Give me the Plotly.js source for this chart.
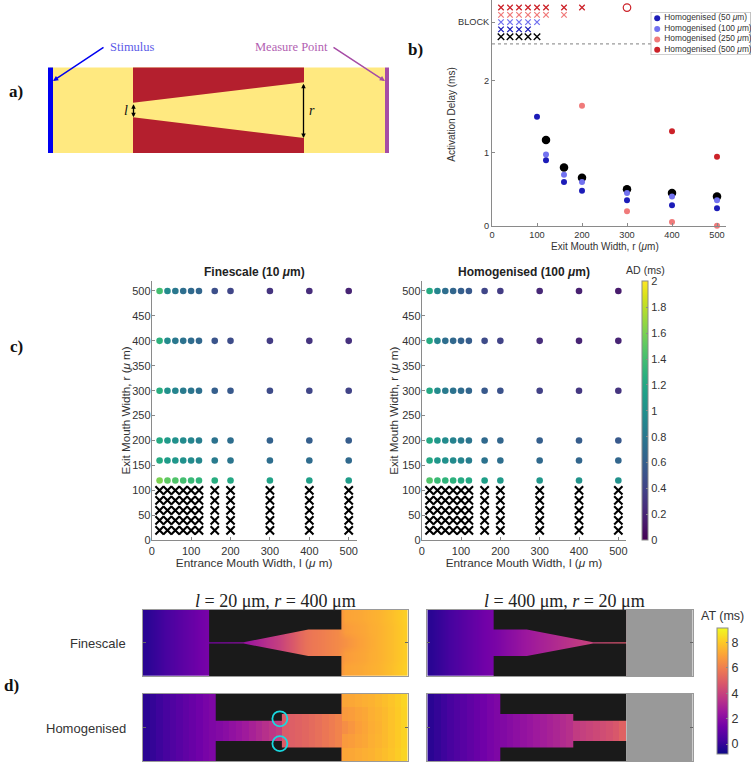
<!DOCTYPE html>
<html><head><meta charset="utf-8">
<script src="https://cdn.plot.ly/plotly-3.0.1.min.js"></script>
<style>html,body{margin:0;padding:0;background:#fff}#p{width:751px;height:762px}</style>
</head><body><div id="p"></div>
<script>
const W=751,H=762;
const SANS='"Liberation Sans",Arial,sans-serif', SERIF='"Liberation Serif","DejaVu Serif",serif';
const AXC='#8a8a8a', TXT='#333333';

/* ---------- panel b data ---------- */
const fineDelayX=[120,160,200,300,400,500];
const fineDelay=[1.18,0.80,0.66,0.50,0.45,0.40];
const hom50X=[100,120,160,200,300,400,500];
const hom50=[1.50,0.90,0.60,0.48,0.35,0.28,0.24];
const hom100X=[120,160,200,300,400,500];
const hom100=[0.98,0.70,0.60,0.45,0.40,0.35];
const hom250X=[200,300,400,500];
const hom250=[1.65,0.20,0.05,0.00];
const hom500X=[400,500];
const hom500=[1.30,0.95];
const blockFineX=[20,40,60,80,100];
const block50X=[20,40,60,80];
const block100X=[20,40,60,80,100];
const block250X=[20,40,60,80,100,120,160];
const block500X=[20,40,60,80,100,120,160,200];
const blockLevels={fine:2.6,h50:2.7,h100:2.8,h250:2.9,h500:3.0};
const legendLabels=['Homogenised (50 <i>μ</i>m)','Homogenised (100 <i>μ</i>m)','Homogenised (250 <i>μ</i>m)','Homogenised (500 <i>μ</i>m)'];
const C50='#1c1cb8',C100='#7272f0',C250='#f07a7a',C500='#cc2229';

/* ---------- panel c data ---------- */
const entrance=[20,40,60,80,100,120,160,200,300,400,500];
const exitRows=[500,400,300,200,160,120];
const blockedRows=[100,80,60,40,20];
const fineAD=[
 [1.40,0.95,0.80,0.72,0.68,0.65,0.48,0.42,0.30,0.25,0.20],
 [1.28,0.95,0.80,0.75,0.70,0.66,0.52,0.46,0.35,0.30,0.28],
 [1.25,1.00,0.90,0.82,0.78,0.73,0.60,0.55,0.45,0.42,0.40],
 [1.22,1.08,1.00,0.95,0.90,0.85,0.75,0.72,0.62,0.60,0.58],
 [1.22,1.10,1.05,1.00,0.95,0.92,0.82,0.78,0.72,0.70,0.68],
 [1.60,1.50,1.45,1.40,1.35,1.30,1.25,1.20,1.15,1.12,1.10]];
const homAD=[
 [1.22,0.90,0.72,0.65,0.60,0.55,0.42,0.35,0.22,0.18,0.15],
 [1.22,0.90,0.72,0.67,0.62,0.58,0.45,0.40,0.25,0.20,0.20],
 [1.20,0.95,0.82,0.75,0.70,0.65,0.55,0.50,0.38,0.32,0.30],
 [1.20,1.05,0.95,0.88,0.82,0.78,0.68,0.65,0.60,0.58,0.55],
 [1.20,1.05,1.00,0.95,0.90,0.85,0.75,0.72,0.68,0.65,0.65],
 [1.45,1.35,1.30,1.28,1.22,1.20,1.12,1.08,1.05,1.02,1.00]];

/* ---------- panel d data: AT (ms) per 100 um column ---------- */
const colX=[50,150,250,350,450,550,650,750,850,950,1050,1150,1250,1350,1450,1550,1650,1750,1850,1950,2050,2150,2250,2350,2450,2550,2650,2750,2850,2950,3050,3150,3250,3350,3450,3550,3650,3750,3850,3950];
const rowY=[50,150,250,350,450,550,650,750,850,950];
const fineL_center=[-0.25,-0.05,0.15,0.35,0.55,0.75,0.95,1.15,1.35,1.50,1.60,1.70,1.80,1.90,2.00,2.40,2.70,3.00,3.30,3.60,3.90,4.30,4.70,5.10,5.50,5.75,5.85,6.00,6.15,6.30,6.50,6.70,6.90,7.05,7.20,7.35,7.50,7.65,7.85,8.05];
const fineL_mid=[-0.25,-0.05,0.15,0.35,0.55,0.75,0.95,1.15,1.35,1.50,1.60,1.70,1.80,1.90,2.00,2.40,2.70,3.00,3.30,3.60,3.90,4.30,4.70,5.10,5.50,5.75,5.85,6.00,6.15,6.30,6.80,6.90,7.00,7.10,7.25,7.35,7.50,7.65,7.85,8.05];
const fineL_edge=[-0.25,-0.05,0.15,0.35,0.55,0.75,0.95,1.15,1.35,1.50,1.60,1.70,1.80,1.90,2.00,2.40,2.70,3.00,3.30,3.60,3.90,4.30,4.70,5.10,5.50,5.75,5.85,6.00,6.15,6.30,7.00,7.05,7.10,7.20,7.30,7.40,7.55,7.70,7.90,8.10];
const homL_center=[-0.25,-0.05,0.15,0.35,0.55,0.75,0.95,1.15,1.35,1.55,1.70,1.85,2.00,2.20,2.40,2.60,2.85,3.10,3.35,3.60,3.85,4.85,4.95,5.05,5.20,5.35,5.50,5.70,5.90,6.10,6.40,6.65,6.90,7.05,7.25,7.40,7.60,7.80,8.00,8.20];
const homL_mid=[-0.25,-0.05,0.15,0.35,0.55,0.75,0.95,1.15,1.35,1.55,1.70,1.85,2.00,2.20,2.40,2.60,2.85,3.10,3.35,3.60,3.85,4.85,4.95,5.05,5.20,5.35,5.50,5.70,5.90,6.10,6.75,6.85,7.00,7.10,7.30,7.45,7.60,7.80,8.00,8.20];
const homL_edge=[-0.25,-0.05,0.15,0.35,0.55,0.75,0.95,1.15,1.35,1.55,1.70,1.85,2.00,2.20,2.40,2.60,2.85,3.10,3.35,3.60,3.85,4.85,4.95,5.05,5.20,5.35,5.50,5.70,5.90,6.10,7.05,7.10,7.20,7.30,7.40,7.55,7.70,7.85,8.05,8.25];
const fineR=[-0.25,-0.05,0.15,0.35,0.55,0.75,0.95,1.15,1.35,1.50,1.65,1.85,2.05,2.25,2.45,2.60,2.75,2.90,3.05,3.20,3.35,3.50,3.65,3.80,4.00,4.15,4.30,4.40,4.55,4.70,null,null,null,null,null,null,null,null,null,null];
const homR=[-0.25,-0.05,0.15,0.35,0.55,0.75,0.95,1.15,1.35,1.55,1.70,1.80,1.95,2.10,2.25,2.40,2.55,2.70,2.85,3.00,3.20,3.35,3.75,3.90,4.05,4.20,4.35,4.50,4.70,5.05,null,null,null,null,null,null,null,null,null,null];
/* obstacle outlines in um */
const fineLBlackX=[1000,3000,3000,2500,1520,1000,1000,null,1000,3000,3000,2500,1520,1000,1000];
const fineLBlackY=[0,0,300,300,490,490,0,null,1000,1000,700,700,510,510,1000];
const homLBlackX=[1100,3000,3000,2100,2100,1100,1100,null,1100,3000,3000,2100,2100,1100,1100];
const homLBlackY=[0,0,300,300,400,400,0,null,1000,1000,800,800,700,700,1000];
const fineRBlackX=[1000,3000,3000,2500,1500,1000,1000,null,1000,3000,3000,2500,1500,1000,1000];
const fineRBlackY=[0,0,490,490,300,300,0,null,1000,1000,510,510,700,700,1000];
const homRBlackX=[1100,3000,3000,2200,2200,1100,1100,null,1100,3000,3000,2200,2200,1100,1100];
const homRBlackY=[0,0,400,400,300,300,0,null,1000,1000,700,700,800,800,1000];
const unactivatedX=[3000,4000,4000,3000,3000];
const unactivatedY=[0,0,1000,1000,0];
const markerCircleX=[2070,2070];
const markerCircleY=[370,740];
const PLASMA=[[0,'#0d0887'],[0.111,'#46039f'],[0.222,'#7201a8'],[0.333,'#9c179e'],[0.444,'#bd3786'],[0.556,'#d8576b'],[0.667,'#ed7953'],[0.778,'#fb9f3a'],[0.889,'#fdca26'],[1,'#f0f921']];

/* ---------- panel a schematic ---------- */
const yellowX=[50,385,385,50,50], yellowY=[67.5,67.5,153,153,67.5];
const redX=[133,304,304,133,133,null,133,304,304,133,133];
const redY=[67.5,67.5,82.3,102.7,67.5,null,117.3,138,153,153,117.3];
const stimX=[48,53,53,48,48], stimY=[67.5,67.5,153,153,67.5];
const measX=[385,389,389,385,385], measY=[67.5,67.5,153,153,67.5];

/* ---------- helpers ---------- */
const dx=(a,b)=>[a/W,b/W];
const dy=(top,bot)=>[1-bot/H,1-top/H];
const rows3=(c,m,e)=>[e,e,m,m,c,c,m,m,e,e];
const same=r=>rowY.map(()=>r);
const flat=(xs,ys,ms)=>{const x=[],y=[],c=[];ys.forEach((yy,i)=>xs.forEach((xx,j)=>{x.push(xx);y.push(yy);if(ms)c.push(ms[i][j]);}));return {x,y,c};};
const noAxis={visible:false,showgrid:false,zeroline:false,fixedrange:true};
const ann=(x,y,text,o={})=>Object.assign({xref:'paper',yref:'paper',x:x/W,y:1-y/H,text,showarrow:false,xanchor:'center',yanchor:'middle',
  font:{family:o.family||SANS,size:o.size||12,color:o.color||TXT}},o.extra||{});
const boldLabel=(x,y,t)=>ann(x,y,t,{extra:{font:{family:SERIF,size:17,color:'#111',weight:700}}});

const traces=[];
const fill=(x,y,color,xa,ya)=>traces.push({type:'scatter',mode:'lines',x,y,fill:'toself',fillcolor:color,line:{width:0,color},xaxis:xa,yaxis:ya,hoverinfo:'skip',showlegend:false});

/* panel a */
fill(yellowX,yellowY,'#ffe980','x','y');
fill(redX,redY,'#b41f2e','x','y');
fill(stimX,stimY,'#0000f0','x','y');
fill(measX,measY,'#a64ca6','x','y');

/* panel b */
const pts=(x,y,color,size)=>traces.push({type:'scatter',mode:'markers',x,y,cliponaxis:false,marker:{color,size,line:{width:0}},xaxis:'x2',yaxis:'y2',hoverinfo:'skip',showlegend:false});
const crosses=(xs,lvl,color,size,w)=>traces.push({type:'scatter',mode:'markers',x:xs,y:xs.map(()=>lvl),cliponaxis:false,marker:{symbol:'x-thin',size,color,line:{color,width:w}},xaxis:'x2',yaxis:'y2',hoverinfo:'skip',showlegend:false});
traces.push({type:'scatter',mode:'lines',x:[0,520],y:[2.5,2.5],line:{color:'#9a9a9a',width:1.2,dash:'3px,3px'},xaxis:'x2',yaxis:'y2',hoverinfo:'skip',showlegend:false});
crosses(block500X,blockLevels.h500,C500,5.5,1.3);
crosses(block250X,blockLevels.h250,C250,5.5,1.3);
crosses(block100X,blockLevels.h100,C100,5.5,1.3);
crosses(block50X,blockLevels.h50,C50,5.5,1.3);
crosses(blockFineX,blockLevels.fine,'#000000',6.5,1.4);
traces.push({type:'scatter',mode:'markers',x:[300],y:[3.0],cliponaxis:false,marker:{symbol:'circle-open',size:7.5,color:C500,line:{color:C500,width:1.2}},xaxis:'x2',yaxis:'y2',hoverinfo:'skip',showlegend:false});
pts(fineDelayX,fineDelay,'#000000',8.5);
pts(hom500X,hom500,C500,6);
pts(hom250X,hom250,C250,6);
pts(hom100X,hom100,C100,6);
pts(hom50X,hom50,C50,6);

/* panel b legend overlay */
traces.push({type:'scatter',mode:'lines',x:[0,100,100,0,0],y:[0,0,43,43,0],fill:'toself',fillcolor:'#ffffff',line:{color:'#a0a0a0',width:1.2},xaxis:'x3',yaxis:'y3',hoverinfo:'skip',showlegend:false});
traces.push({type:'scatter',mode:'markers',x:[6.5,6.5,6.5,6.5],y:[6.3,17,27.4,37.7],marker:{color:[C50,C100,C250,C500],size:6},xaxis:'x3',yaxis:'y3',hoverinfo:'skip',showlegend:false});
traces.push({type:'scatter',mode:'text',x:[13.5,13.5,13.5,13.5],y:[6.3,17,27.4,37.7],text:legendLabels,textposition:'middle right',textfont:{family:SANS,size:8.4,color:TXT},xaxis:'x3',yaxis:'y3',hoverinfo:'skip',showlegend:false,cliponaxis:false});

/* panel c */
const xBlocked=flat(entrance,blockedRows);
function adPanel(ms,xa,ya,withBar){
  const f=flat(entrance,exitRows,ms);
  traces.push({type:'scatter',mode:'markers',x:f.x,y:f.y,xaxis:xa,yaxis:ya,hoverinfo:'skip',showlegend:false,cliponaxis:false,
    marker:Object.assign({size:6.6,color:f.c,colorscale:'Viridis',cmin:0,cmax:2,line:{width:0},showscale:withBar},
      withBar?{colorbar:{x:641.7/W,xref:'paper',xanchor:'left',y:1-540.3/H,yref:'paper',yanchor:'bottom',len:259.3/H,lenmode:'fraction',thickness:6,thicknessmode:'pixels',xpad:0,ypad:0,
        tick0:0,dtick:0.2,ticks:'inside',ticklen:2,tickcolor:AXC,outlinecolor:AXC,outlinewidth:1,tickfont:{family:SANS,size:11,color:TXT}}}:{})});
  traces.push({type:'scatter',mode:'markers',x:xBlocked.x,y:xBlocked.y,xaxis:xa,yaxis:ya,hoverinfo:'skip',showlegend:false,cliponaxis:false,
    marker:{symbol:'x-thin',size:8.3,color:'#000',line:{color:'#000',width:2.1}}});
}
adPanel(fineAD,'x4','y4',false);
adPanel(homAD,'x5','y5',true);

/* panel d */
function atPanel(z,smooth,black,xa,ya,blocked,bar){
  const h={type:'heatmap',x:colX,y:rowY,z,zmin:-0.8,zmax:9.1,colorscale:PLASMA,zsmooth:smooth,xaxis:xa,yaxis:ya,hoverinfo:'skip',showscale:!!bar};
  if(bar) h.colorbar={x:717.3/W,xref:'paper',xanchor:'left',y:1-754.3/H,yref:'paper',yanchor:'bottom',len:125.6/H,lenmode:'fraction',thickness:11,thicknessmode:'pixels',xpad:0,ypad:0,
     tick0:0,dtick:2,ticks:'inside',ticklen:2,tickcolor:AXC,outlinecolor:AXC,outlinewidth:1,tickfont:{family:SANS,size:12.5,color:TXT}};
  traces.push(h);
  fill(black[0],black[1],'#1a1a1a',xa,ya);
  if(blocked) fill(unactivatedX,unactivatedY,'#999999',xa,ya);
}
atPanel(rows3(fineL_center,fineL_mid,fineL_edge),'best',[fineLBlackX,fineLBlackY],'x6','y6',false,false);
atPanel(same(fineR),'best',[fineRBlackX,fineRBlackY],'x7','y7',true,true);
atPanel(rows3(homL_center,homL_mid,homL_edge),false,[homLBlackX,homLBlackY],'x8','y8',false,false);
atPanel(same(homR),false,[homRBlackX,homRBlackY],'x9','y9',true,false);
traces.push({type:'scatter',mode:'markers',x:markerCircleX,y:markerCircleY,xaxis:'x8',yaxis:'y8',hoverinfo:'skip',showlegend:false,cliponaxis:false,
  marker:{symbol:'circle-open',size:15,color:'#19d8e0',line:{color:'#19d8e0',width:1.8}}});

/* layout */
const base2d=(o)=>Object.assign({showgrid:false,zeroline:false,showline:true,linecolor:AXC,linewidth:1,ticks:'inside',ticklen:3,tickcolor:AXC,fixedrange:true},o);
const cAxisX=(a,b,anchor)=>base2d({domain:dx(a,b),anchor,range:[0,520],tickvals:[0,100,200,300,400,500],tickfont:{family:SANS,size:11,color:TXT},
  title:{text:'Entrance Mouth Width, l (<i>μ</i> m)',font:{family:SANS,size:11.8,color:TXT},standoff:3}});
const cAxisY=(anchor)=>base2d({domain:dy(281,540.3),anchor,range:[0,520],tick0:0,dtick:50,ticklabelstandoff:-2,tickfont:{family:SANS,size:11,color:TXT}});
const dAxisX=(a,b,anchor)=>({domain:dx(a,b),anchor,range:[0,4000],showgrid:false,zeroline:false,showline:true,mirror:true,linecolor:'#9a9a9a',linewidth:1,ticks:'',showticklabels:false,fixedrange:true});
const dAxisY=(t,b,anchor)=>({domain:dy(t,b),anchor,range:[1000,0],showgrid:false,zeroline:false,showline:true,mirror:'allticks',linecolor:'#9a9a9a',linewidth:1,ticks:'inside',ticklen:3,tickcolor:'#666',tickvals:[500],showticklabels:false,fixedrange:true});
const rot=(x,y,t,size)=>ann(x,y,t,{size,extra:{textangle:-90}});

const layout={
  width:W,height:H,margin:{l:0,r:0,t:0,b:0},autosize:false,paper_bgcolor:'#fff',plot_bgcolor:'rgba(0,0,0,0)',showlegend:false,
  xaxis:Object.assign({},noAxis,{domain:dx(0,420),range:[0,420],anchor:'y'}),
  yaxis:Object.assign({},noAxis,{domain:dy(30,170),range:[170,30],anchor:'x'}),
  xaxis2:base2d({domain:dx(492,726),anchor:'y2',range:[0,520],tickvals:[0,100,200,300,400,500],tickfont:{family:SANS,size:9.2,color:TXT}}),
  yaxis2:base2d({domain:dy(0.3,225.7),anchor:'x2',range:[0,3.1],tickvals:[0,1,2,2.8],ticktext:['0','1','2','BLOCK'],tickfont:{family:SANS,size:9.2,color:TXT}}),
  xaxis3:Object.assign({},noAxis,{domain:dx(650.7,750.7),range:[0,100],anchor:'y3'}),
  yaxis3:Object.assign({},noAxis,{domain:dy(12,55),range:[43,0],anchor:'x3'}),
  xaxis4:cAxisX(151.7,356.6,'y4'), yaxis4:cAxisY('x4'),
  xaxis5:cAxisX(421.7,626.2,'y5'), yaxis5:cAxisY('x5'),
  xaxis6:dAxisX(143,407.5,'y6'), yaxis6:dAxisY(609.7,676,'x6'),
  xaxis7:dAxisX(427.3,692.7,'y7'), yaxis7:dAxisY(609.7,676,'x7'),
  xaxis8:dAxisX(143,407.5,'y8'), yaxis8:dAxisY(694,761,'x8'),
  xaxis9:dAxisX(427.3,692.7,'y9'), yaxis9:dAxisY(694,761,'x9'),
  annotations:[
    ann(132.5,46.5,'Stimulus',{family:SERIF,size:12.5,color:'#5c5ce8'}),
    ann(291,46.5,'Measure Point',{family:SERIF,size:12.5,color:'#b25fb2'}),
    {xref:'x',yref:'y',axref:'x',ayref:'y',x:53,y:81,ax:105,ay:46.5,showarrow:true,arrowhead:2,arrowsize:0.7,arrowwidth:1.5,arrowcolor:'#0000f0',text:''},
    {xref:'x',yref:'y',axref:'x',ayref:'y',x:385,y:81,ax:332,ay:46.5,showarrow:true,arrowhead:2,arrowsize:0.7,arrowwidth:1.5,arrowcolor:'#a64ca6',text:''},
    {xref:'x',yref:'y',axref:'x',ayref:'y',x:133.5,y:117.3,ax:133.5,ay:102.7,showarrow:true,arrowhead:2,startarrowhead:2,arrowside:'end+start',arrowsize:0.7,startarrowsize:0.7,arrowwidth:1.3,arrowcolor:'#000',text:''},
    {xref:'x',yref:'y',axref:'x',ayref:'y',x:303.5,y:138,ax:303.5,ay:82.3,showarrow:true,arrowhead:2,startarrowhead:2,arrowside:'end+start',arrowsize:0.7,startarrowsize:0.7,arrowwidth:1.3,arrowcolor:'#000',text:''},
    ann(125.5,110,'<i>l</i>',{family:SERIF,size:14,color:'#111'}),
    ann(312,110,'<i>r</i>',{family:SERIF,size:14,color:'#111'}),
    boldLabel(16,92,'a)'),boldLabel(416,50,'b)'),boldLabel(16,347,'c)'),boldLabel(11,685,'d)'),
    ann(604.5,246,'Exit Mouth Width, r (<i>μ</i>m)',{size:10}),
    rot(452,114.7,'Activation Delay (ms)',10),
    rot(125,410.5,'Exit Mouth Width, r (<i>μ</i> m)',11.6),
    rot(393.3,410.5,'Exit Mouth Width, r (<i>μ</i> m)',11.6),
    ann(254.5,272.5,'<b>Finescale (10 <i>μ</i>m)</b>',{size:12,color:'#222'}),
    ann(524,272.5,'<b>Homogenised (100 <i>μ</i>m)</b>',{size:12,color:'#222'}),
    ann(645,270,'AD (ms)',{size:10.6}),
    ann(722.7,616,'AT (ms)',{size:12.5}),
    ann(128,643.5,'Finescale',{size:13,extra:{xanchor:'right'}}),
    ann(128,728.5,'Homogenised',{size:13,extra:{xanchor:'right'}}),
    ann(275,600.5,'<i>l</i> = 20 μm, <i>r</i> = 400 μm',{family:SERIF,size:18,color:'#222'}),
    ann(564,600.5,'<i>l</i> = 400 μm, <i>r</i> = 20 μm',{family:SERIF,size:18,color:'#222'})
  ]
};
Plotly.newPlot('p',traces,layout,{displayModeBar:false,staticPlot:true});
</script></body></html>
